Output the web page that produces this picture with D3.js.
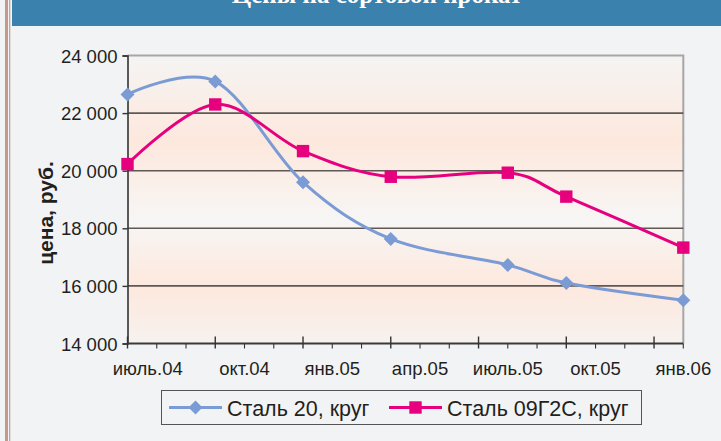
<!DOCTYPE html>
<html>
<head>
<meta charset="utf-8">
<script src="https://cdn.jsdelivr.net/npm/d3@7"></script>
<style>
  body { margin: 0; background: #f2f3f5; }
  svg { display: block; }
  text { font-family: "Liberation Sans", Arial, sans-serif; fill: #231f20; }
</style>
</head>
<body>
<svg id="chart" width="721" height="441"></svg>
<script>
// data
const dates = ["2004-07", "2004-10", "2005-01", "2005-04", "2005-08", "2005-10", "2006-02"];
const steel20 = [22650, 23100, 19600, 17630, 16730, 16100, 15500];
const steel09g2s = [20230, 22300, 20680, 19790, 19930, 19100, 17330];
const seriesNames = ["Сталь 20, круг", "Сталь 09Г2С, круг"];
const yTicks = [14000, 16000, 18000, 20000, 22000, 24000];
const xTickMonths = ["2004-07", "2004-10", "2005-01", "2005-04", "2005-07", "2005-10", "2006-01"];
const xTickLabels = ["июль.04", "окт.04", "янв.05", "апр.05", "июль.05", "окт.05", "янв.06"];
const axisStart = "2004-07", axisEnd = "2006-02";
const yTitle = "цена, руб.";
const title = "Цены на сортовой прокат";

const svg = d3.select("#chart");

// month number counted from the start of the axis (Excel date axis, base unit = month)
function monthIndex(s) {
  let p = s.split("-").map(Number);
  let b = axisStart.split("-").map(Number);
  return (p[0] - b[0]) * 12 + (p[1] - b[1]);
}

const plotL = 127.5, plotR = 683.3, plotT = 55.5, plotB = 343.5;

const x = d3.scaleLinear()
  .domain([0, monthIndex(axisEnd)])
  .range([plotL, plotR]);

const y = d3.scaleLinear()
  .domain([14000, 24000])
  .range([plotB, plotT]);

// page frame
svg.append("rect").attr("x", 0).attr("y", 0).attr("width", 721).attr("height", 441).attr("fill", "#f2f3f5");
svg.append("rect").attr("x", 5).attr("y", 0).attr("width", 3).attr("height", 441).attr("fill", "#c39a89");
svg.append("rect").attr("x", 9).attr("y", 0).attr("width", 1.3).attr("height", 441).attr("fill", "#c9a394");
svg.append("rect").attr("x", 12).attr("y", 0).attr("width", 709).attr("height", 26).attr("fill", "#3a81ad");
// title sits above the crop, only its lower edge shows
svg.append("text")
  .attr("x", 377).attr("y", 3)
  .attr("text-anchor", "middle")
  .style("font-family", "'Liberation Serif', 'Times New Roman', serif")
  .style("font-weight", "bold")
  .style("font-size", "25px")
  .style("fill", "#ffffff")
  .text(title);

// plot background gradient
const defs = svg.append("defs");
const grad = defs.append("linearGradient")
  .attr("id", "bg")
  .attr("x1", 0).attr("y1", 0).attr("x2", 0).attr("y2", 1);
[[0, "#f5f4f3"], [0.3, "#fde8dd"], [0.57, "#f7f6f5"], [0.8, "#fde8dd"], [1, "#f7f2ef"]].forEach(function(s) {
  grad.append("stop").attr("offset", s[0]).attr("stop-color", s[1]);
});

svg.append("rect")
  .attr("x", plotL).attr("y", plotT)
  .attr("width", plotR - plotL).attr("height", plotB - plotT)
  .attr("fill", "url(#bg)");

// outer border of plot (top and right)
svg.append("path")
  .attr("d", `M${plotL},${plotT}H${plotR}V${plotB}`)
  .attr("fill", "none")
  .attr("stroke", "#a6a6a6")
  .attr("stroke-width", 2);

// gridlines
svg.append("g")
  .selectAll("line")
  .data(yTicks.filter(d => d > 14000 && d < 24000))
  .enter().append("line")
  .attr("x1", plotL).attr("x2", plotR)
  .attr("y1", d => y(d)).attr("y2", d => y(d))
  .attr("stroke", "#5e5955")
  .attr("stroke-width", 1.6);

// y axis
const yAxis = svg.append("g")
  .attr("transform", `translate(${plotL},0)`)
  .call(d3.axisLeft(y).tickValues(yTicks).tickSize(5).tickFormat(d => d3.format(",")(d).replace(",", " ")));
yAxis.select(".domain").attr("stroke", "#333").attr("stroke-width", 1.6);
yAxis.selectAll(".tick line").attr("stroke", "#333").attr("stroke-width", 1.4);
yAxis.selectAll(".tick text")
  .attr("x", -10)
  .attr("dy", "0.36em")
  .style("font-size", "18.5px")
  .style("font-family", "'Liberation Sans', Arial, sans-serif")
  .attr("fill", "#231f20");

// x axis: minor ticks every month, major every quarter
const allMonths = d3.range(0, monthIndex(axisEnd) + 1);
const majorIdx = xTickMonths.map(monthIndex);
const xg = svg.append("g");
xg.append("line")
  .attr("x1", plotL).attr("x2", plotR)
  .attr("y1", plotB).attr("y2", plotB)
  .attr("stroke", "#3a3a3a").attr("stroke-width", 2);
xg.selectAll("line.minor")
  .data(allMonths)
  .enter().append("line")
  .attr("class", "minor")
  .attr("x1", d => x(d)).attr("x2", d => x(d))
  .attr("y1", d => majorIdx.includes(d) ? plotB - 7 : plotB)
  .attr("y2", plotB + 5)
  .attr("stroke", "#333")
  .attr("stroke-width", d => majorIdx.includes(d) ? 1.4 : 1.1);
xg.selectAll("text")
  .data(xTickMonths)
  .enter().append("text")
  // Excel puts each label under the middle of the following month; the first one is pushed left
  .attr("x", (d, i) => x(monthIndex(d) + 1) - (i === 0 ? 9 : 0))
  .attr("y", 375)
  .attr("text-anchor", "middle")
  .style("font-size", "18.5px")
  .text((d, i) => xTickLabels[i]);

// y title
svg.append("text")
  .attr("transform", "translate(53,213) rotate(-90)")
  .attr("text-anchor", "middle")
  .style("font-size", "21px")
  .style("font-weight", "bold")
  .text(yTitle);

// series
const series = [
  { name: seriesNames[0], values: steel20, color: "#7b9bd5", marker: "diamond" },
  { name: seriesNames[1], values: steel09g2s, color: "#e6007e", marker: "square" }
];

const line = d3.line()
  .x(d => x(monthIndex(d.date)))
  .y(d => y(d.value))
  .curve(d3.curveCardinal.tension(0));

function drawMarker(g, type, color) {
  if (type === "diamond") {
    g.append("path").attr("d", "M0,-7L7,0L0,7L-7,0Z").attr("fill", color);
  } else {
    g.append("rect").attr("x", -6.2).attr("y", -6.2).attr("width", 12.4).attr("height", 12.4).attr("fill", color);
  }
}

series.forEach(function(s) {
  let pts = dates.map((d, i) => ({ date: d, value: s.values[i] }));
  svg.append("path")
    .datum(pts)
    .attr("d", line)
    .attr("fill", "none")
    .attr("stroke", s.color)
    .attr("stroke-width", 3);
  svg.append("g")
    .selectAll("g")
    .data(pts)
    .enter().append("g")
    .attr("transform", d => `translate(${x(monthIndex(d.date))},${y(d.value)})`)
    .each(function() { drawMarker(d3.select(this), s.marker, s.color); });
});

// legend
const legend = svg.append("g");
legend.append("rect")
  .attr("x", 161.5).attr("y", 390.5)
  .attr("width", 480).attr("height", 34)
  .attr("fill", "#f2f3f5")
  .attr("stroke", "#555").attr("stroke-width", 1);
const legendPos = [169, 389];
series.forEach(function(s, i) {
  let lx = legendPos[i];
  legend.append("line")
    .attr("x1", lx).attr("x2", lx + 53)
    .attr("y1", 407.5).attr("y2", 407.5)
    .attr("stroke", s.color).attr("stroke-width", 3);
  let m = legend.append("g").attr("transform", `translate(${lx + 26.5},407.5)`);
  drawMarker(m, s.marker, s.color);
  legend.append("text")
    .attr("x", lx + 58).attr("y", 415.5)
    .style("font-size", "21.5px")
    .text(s.name);
});
</script>
</body>
</html>
